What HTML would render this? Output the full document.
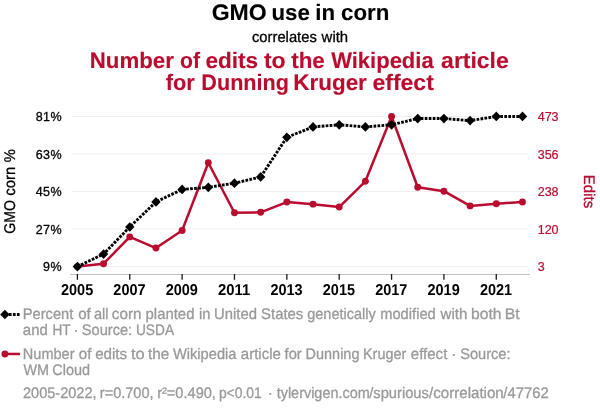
<!DOCTYPE html>
<html lang="en"><head><meta charset="utf-8"><title>GMO use in corn correlates with Number of edits to the Wikipedia article for Dunning Kruger effect</title>
<style>
html,body{margin:0;padding:0;background:#fff;}
body{width:600px;height:414px;overflow:hidden;}
svg{display:block;font-family:"Liberation Sans",Arial,Helvetica,sans-serif;}
text{stroke-linejoin:round;}
.b{font-weight:bold;}
</style></head><body>
<svg width="600" height="414" viewBox="0 0 600 414">
<rect width="600" height="414" fill="#fff"/>
<text class="b" text-rendering="geometricPrecision" y="19.80" font-size="22.4" fill="#000" stroke="#000" stroke-width="0.12"><tspan x="211.66" textLength="55.01" lengthAdjust="spacingAndGlyphs">GMO</tspan> <tspan x="271.52" textLength="38.34" lengthAdjust="spacingAndGlyphs">use</tspan> <tspan x="315.35" textLength="19.79" lengthAdjust="spacingAndGlyphs">in</tspan> <tspan x="341.03" textLength="48.36" lengthAdjust="spacingAndGlyphs">corn</tspan></text>
<text text-rendering="geometricPrecision" y="41.80" font-size="15.2" fill="#000" stroke="#000" stroke-width="0.30"><tspan x="251.97" textLength="64.86" lengthAdjust="spacingAndGlyphs">correlates</tspan> <tspan x="321.62" textLength="26.55" lengthAdjust="spacingAndGlyphs">with</tspan></text>
<text class="b" text-rendering="geometricPrecision" y="67.80" font-size="22.4" fill="#ba0c2f" stroke="#ba0c2f" stroke-width="0.12"><tspan x="89.71" textLength="84.13" lengthAdjust="spacingAndGlyphs">Number</tspan> <tspan x="179.97" textLength="19.99" lengthAdjust="spacingAndGlyphs">of</tspan> <tspan x="205.42" textLength="52.71" lengthAdjust="spacingAndGlyphs">edits</tspan> <tspan x="263.92" textLength="21.78" lengthAdjust="spacingAndGlyphs">to</tspan> <tspan x="291.23" textLength="33.54" lengthAdjust="spacingAndGlyphs">the</tspan> <tspan x="331.18" textLength="102.48" lengthAdjust="spacingAndGlyphs">Wikipedia</tspan> <tspan x="441.13" textLength="67.66" lengthAdjust="spacingAndGlyphs">article</tspan></text>
<text class="b" text-rendering="geometricPrecision" y="89.80" font-size="22.4" fill="#ba0c2f" stroke="#ba0c2f" stroke-width="0.12"><tspan x="165.83" textLength="29.00" lengthAdjust="spacingAndGlyphs">for</tspan> <tspan x="201.35" textLength="87.59" lengthAdjust="spacingAndGlyphs">Dunning</tspan> <tspan x="293.30" textLength="73.54" lengthAdjust="spacingAndGlyphs">Kruger</tspan> <tspan x="372.60" textLength="61.18" lengthAdjust="spacingAndGlyphs">effect</tspan></text>
<line x1="71" x2="528.5" y1="116.45" y2="116.45" stroke="#f0f0f0" stroke-width="1"/>
<line x1="71" x2="528.5" y1="153.99" y2="153.99" stroke="#f0f0f0" stroke-width="1"/>
<line x1="71" x2="528.5" y1="191.53" y2="191.53" stroke="#f0f0f0" stroke-width="1"/>
<line x1="71" x2="528.5" y1="229.06" y2="229.06" stroke="#f0f0f0" stroke-width="1"/>
<line x1="71" x2="528.5" y1="266.60" y2="266.60" stroke="#f0f0f0" stroke-width="1"/>
<line x1="70" x2="530" y1="274.5" y2="274.5" stroke="#c4c4c4" stroke-width="1"/>
<line x1="77.40" x2="77.40" y1="274" y2="279.8" stroke="#1a1a1a" stroke-width="1.3"/>
<text class="b" text-anchor="middle" textLength="32.20" lengthAdjust="spacingAndGlyphs" x="77.10" y="294.90" font-size="15.7" fill="#000" text-rendering="geometricPrecision">2005</text>
<line x1="129.76" x2="129.76" y1="274" y2="279.8" stroke="#1a1a1a" stroke-width="1.3"/>
<text class="b" text-anchor="middle" textLength="32.20" lengthAdjust="spacingAndGlyphs" x="129.46" y="294.90" font-size="15.7" fill="#000" text-rendering="geometricPrecision">2007</text>
<line x1="182.12" x2="182.12" y1="274" y2="279.8" stroke="#1a1a1a" stroke-width="1.3"/>
<text class="b" text-anchor="middle" textLength="32.20" lengthAdjust="spacingAndGlyphs" x="181.82" y="294.90" font-size="15.7" fill="#000" text-rendering="geometricPrecision">2009</text>
<line x1="234.48" x2="234.48" y1="274" y2="279.8" stroke="#1a1a1a" stroke-width="1.3"/>
<text class="b" text-anchor="middle" textLength="32.20" lengthAdjust="spacingAndGlyphs" x="234.18" y="294.90" font-size="15.7" fill="#000" text-rendering="geometricPrecision">2011</text>
<line x1="286.84" x2="286.84" y1="274" y2="279.8" stroke="#1a1a1a" stroke-width="1.3"/>
<text class="b" text-anchor="middle" textLength="32.20" lengthAdjust="spacingAndGlyphs" x="286.54" y="294.90" font-size="15.7" fill="#000" text-rendering="geometricPrecision">2013</text>
<line x1="339.20" x2="339.20" y1="274" y2="279.8" stroke="#1a1a1a" stroke-width="1.3"/>
<text class="b" text-anchor="middle" textLength="32.20" lengthAdjust="spacingAndGlyphs" x="338.90" y="294.90" font-size="15.7" fill="#000" text-rendering="geometricPrecision">2015</text>
<line x1="391.56" x2="391.56" y1="274" y2="279.8" stroke="#1a1a1a" stroke-width="1.3"/>
<text class="b" text-anchor="middle" textLength="32.20" lengthAdjust="spacingAndGlyphs" x="391.26" y="294.90" font-size="15.7" fill="#000" text-rendering="geometricPrecision">2017</text>
<line x1="443.92" x2="443.92" y1="274" y2="279.8" stroke="#1a1a1a" stroke-width="1.3"/>
<text class="b" text-anchor="middle" textLength="32.20" lengthAdjust="spacingAndGlyphs" x="443.62" y="294.90" font-size="15.7" fill="#000" text-rendering="geometricPrecision">2019</text>
<line x1="496.28" x2="496.28" y1="274" y2="279.8" stroke="#1a1a1a" stroke-width="1.3"/>
<text class="b" text-anchor="middle" textLength="32.20" lengthAdjust="spacingAndGlyphs" x="495.98" y="294.90" font-size="15.7" fill="#000" text-rendering="geometricPrecision">2021</text>
<text text-anchor="end" textLength="25.70" lengthAdjust="spacing" stroke="#000" stroke-width="0.30" x="61.50" y="120.70" font-size="12.5" fill="#000">81%</text>
<text stroke="#ba0c2f" stroke-width="0.20" x="537.70" y="120.70" font-size="12.5" fill="#ba0c2f">473</text>
<text text-anchor="end" textLength="25.70" lengthAdjust="spacing" stroke="#000" stroke-width="0.30" x="61.50" y="159.00" font-size="12.5" fill="#000">63%</text>
<text stroke="#ba0c2f" stroke-width="0.20" x="537.70" y="159.00" font-size="12.5" fill="#ba0c2f">356</text>
<text text-anchor="end" textLength="25.70" lengthAdjust="spacing" stroke="#000" stroke-width="0.30" x="61.50" y="195.70" font-size="12.5" fill="#000">45%</text>
<text stroke="#ba0c2f" stroke-width="0.20" x="537.70" y="195.70" font-size="12.5" fill="#ba0c2f">238</text>
<text text-anchor="end" textLength="25.70" lengthAdjust="spacing" stroke="#000" stroke-width="0.30" x="61.50" y="234.00" font-size="12.5" fill="#000">27%</text>
<text stroke="#ba0c2f" stroke-width="0.20" x="537.70" y="234.00" font-size="12.5" fill="#ba0c2f">120</text>
<text text-anchor="end" textLength="18.60" lengthAdjust="spacing" stroke="#000" stroke-width="0.30" x="61.50" y="271.00" font-size="12.5" fill="#000">9%</text>
<text stroke="#ba0c2f" stroke-width="0.20" x="537.70" y="271.00" font-size="12.5" fill="#ba0c2f">3</text>
<text transform="translate(15.1,233) rotate(-90)" font-size="15.5" text-rendering="geometricPrecision" fill="#000" stroke="#000" stroke-width="0.3"><tspan x="-0.71" textLength="33.58" lengthAdjust="spacingAndGlyphs">GMO</tspan> <tspan x="37.27" textLength="29.00" lengthAdjust="spacingAndGlyphs">corn</tspan> <tspan x="70.68" textLength="13.05" lengthAdjust="spacingAndGlyphs">%</tspan></text>
<text transform="translate(584.3,191.5) rotate(90)" font-size="15.4" text-rendering="geometricPrecision" textLength="33.4" lengthAdjust="spacingAndGlyphs" text-anchor="middle" fill="#ba0c2f" stroke="#ba0c2f" stroke-width="0.3">Edits</text>
<path d="M77.40 266.60 L103.58 263.72 L129.76 236.89 L155.94 248.07 L182.12 230.50 L208.30 162.77 L234.48 212.77 L260.66 212.29 L286.84 202.07 L313.02 204.14 L339.20 207.05 L365.38 181.30 L391.56 116.45 L417.74 187.21 L443.92 191.21 L470.10 205.90 L496.28 203.82 L522.46 201.94" fill="none" stroke="#ba0c2f" stroke-width="2.5" stroke-linejoin="round"/>
<circle cx="77.40" cy="266.60" r="3.45" fill="#ba0c2f"/>
<circle cx="103.58" cy="263.72" r="3.45" fill="#ba0c2f"/>
<circle cx="129.76" cy="236.89" r="3.45" fill="#ba0c2f"/>
<circle cx="155.94" cy="248.07" r="3.45" fill="#ba0c2f"/>
<circle cx="182.12" cy="230.50" r="3.45" fill="#ba0c2f"/>
<circle cx="208.30" cy="162.77" r="3.45" fill="#ba0c2f"/>
<circle cx="234.48" cy="212.77" r="3.45" fill="#ba0c2f"/>
<circle cx="260.66" cy="212.29" r="3.45" fill="#ba0c2f"/>
<circle cx="286.84" cy="202.07" r="3.45" fill="#ba0c2f"/>
<circle cx="313.02" cy="204.14" r="3.45" fill="#ba0c2f"/>
<circle cx="339.20" cy="207.05" r="3.45" fill="#ba0c2f"/>
<circle cx="365.38" cy="181.30" r="3.45" fill="#ba0c2f"/>
<circle cx="391.56" cy="116.45" r="3.45" fill="#ba0c2f"/>
<circle cx="417.74" cy="187.21" r="3.45" fill="#ba0c2f"/>
<circle cx="443.92" cy="191.21" r="3.45" fill="#ba0c2f"/>
<circle cx="470.10" cy="205.90" r="3.45" fill="#ba0c2f"/>
<circle cx="496.28" cy="203.82" r="3.45" fill="#ba0c2f"/>
<circle cx="522.46" cy="201.94" r="3.45" fill="#ba0c2f"/>
<path d="M77.40 266.60 L103.58 254.09 L129.76 226.98 L155.94 201.95 L182.12 189.44 L208.30 187.35 L234.48 183.18 L260.66 176.93 L286.84 137.30 L313.02 126.88 L339.20 124.79 L365.38 126.88 L391.56 124.79 L417.74 118.54 L443.92 118.54 L470.10 120.62 L496.28 116.45 L522.46 116.45" fill="none" stroke="#000" stroke-width="2.9" stroke-dasharray="2.7 1.3"/>
<path d="M77.40 261.75 l4.7 4.85 l-4.7 4.85 l-4.7 -4.85 z" fill="#000"/>
<path d="M103.58 249.24 l4.7 4.85 l-4.7 4.85 l-4.7 -4.85 z" fill="#000"/>
<path d="M129.76 222.13 l4.7 4.85 l-4.7 4.85 l-4.7 -4.85 z" fill="#000"/>
<path d="M155.94 197.10 l4.7 4.85 l-4.7 4.85 l-4.7 -4.85 z" fill="#000"/>
<path d="M182.12 184.59 l4.7 4.85 l-4.7 4.85 l-4.7 -4.85 z" fill="#000"/>
<path d="M208.30 182.50 l4.7 4.85 l-4.7 4.85 l-4.7 -4.85 z" fill="#000"/>
<path d="M234.48 178.33 l4.7 4.85 l-4.7 4.85 l-4.7 -4.85 z" fill="#000"/>
<path d="M260.66 172.08 l4.7 4.85 l-4.7 4.85 l-4.7 -4.85 z" fill="#000"/>
<path d="M286.84 132.45 l4.7 4.85 l-4.7 4.85 l-4.7 -4.85 z" fill="#000"/>
<path d="M313.02 122.03 l4.7 4.85 l-4.7 4.85 l-4.7 -4.85 z" fill="#000"/>
<path d="M339.20 119.94 l4.7 4.85 l-4.7 4.85 l-4.7 -4.85 z" fill="#000"/>
<path d="M365.38 122.03 l4.7 4.85 l-4.7 4.85 l-4.7 -4.85 z" fill="#000"/>
<path d="M391.56 119.94 l4.7 4.85 l-4.7 4.85 l-4.7 -4.85 z" fill="#000"/>
<path d="M417.74 113.69 l4.7 4.85 l-4.7 4.85 l-4.7 -4.85 z" fill="#000"/>
<path d="M443.92 113.69 l4.7 4.85 l-4.7 4.85 l-4.7 -4.85 z" fill="#000"/>
<path d="M470.10 115.77 l4.7 4.85 l-4.7 4.85 l-4.7 -4.85 z" fill="#000"/>
<path d="M496.28 111.60 l4.7 4.85 l-4.7 4.85 l-4.7 -4.85 z" fill="#000"/>
<path d="M522.46 111.60 l4.7 4.85 l-4.7 4.85 l-4.7 -4.85 z" fill="#000"/>
<path d="M4.9 314.5 H20.2" fill="none" stroke="#000" stroke-width="2.9" stroke-dasharray="2.7 1.3"/>
<path d="M4.9 309.65 l4.7 4.85 l-4.7 4.85 l-4.7 -4.85 z" fill="#000"/>
<path d="M4.9 353.95 H19.95" fill="none" stroke="#ba0c2f" stroke-width="2.5"/>
<circle cx="4.9" cy="353.95" r="3.45" fill="#ba0c2f"/>
<text text-rendering="geometricPrecision" y="318.70" font-size="15.3" fill="#999999" stroke="#999999" stroke-width="0.30"><tspan x="22.80" textLength="50.51" lengthAdjust="spacingAndGlyphs">Percent</tspan> <tspan x="78.16" textLength="12.61" lengthAdjust="spacingAndGlyphs">of</tspan> <tspan x="93.88" textLength="14.60" lengthAdjust="spacingAndGlyphs">all</tspan> <tspan x="111.85" textLength="29.64" lengthAdjust="spacingAndGlyphs">corn</tspan> <tspan x="145.54" textLength="48.92" lengthAdjust="spacingAndGlyphs">planted</tspan> <tspan x="199.02" textLength="11.44" lengthAdjust="spacingAndGlyphs">in</tspan> <tspan x="214.05" textLength="42.90" lengthAdjust="spacingAndGlyphs">United</tspan> <tspan x="261.12" textLength="42.21" lengthAdjust="spacingAndGlyphs">States</tspan> <tspan x="307.19" textLength="68.64" lengthAdjust="spacingAndGlyphs">genetically</tspan> <tspan x="380.22" textLength="55.52" lengthAdjust="spacingAndGlyphs">modified</tspan> <tspan x="440.52" textLength="26.76" lengthAdjust="spacingAndGlyphs">with</tspan> <tspan x="470.99" textLength="30.53" lengthAdjust="spacingAndGlyphs">both</tspan> <tspan x="504.71" textLength="14.91" lengthAdjust="spacingAndGlyphs">Bt</tspan></text>
<text text-rendering="geometricPrecision" y="334.60" font-size="15.3" fill="#999999" stroke="#999999" stroke-width="0.30"><tspan x="22.86" textLength="25.11" lengthAdjust="spacingAndGlyphs">and</tspan> <tspan x="52.40" textLength="17.91" lengthAdjust="spacingAndGlyphs">HT</tspan> <tspan x="73.45">·</tspan> <tspan x="81.84" textLength="50.30" lengthAdjust="spacingAndGlyphs">Source:</tspan> <tspan x="135.94" textLength="38.08" lengthAdjust="spacingAndGlyphs">USDA</tspan></text>
<text text-rendering="geometricPrecision" y="358.80" font-size="15.3" fill="#999999" stroke="#999999" stroke-width="0.30"><tspan x="22.81" textLength="51.73" lengthAdjust="spacingAndGlyphs">Number</tspan> <tspan x="78.86" textLength="12.61" lengthAdjust="spacingAndGlyphs">of</tspan> <tspan x="95.16" textLength="31.99" lengthAdjust="spacingAndGlyphs">edits</tspan> <tspan x="130.95" textLength="13.74" lengthAdjust="spacingAndGlyphs">to</tspan> <tspan x="147.97" textLength="21.21" lengthAdjust="spacingAndGlyphs">the</tspan> <tspan x="172.94" textLength="63.56" lengthAdjust="spacingAndGlyphs">Wikipedia</tspan> <tspan x="240.86" textLength="40.00" lengthAdjust="spacingAndGlyphs">article</tspan> <tspan x="284.59" textLength="17.15" lengthAdjust="spacingAndGlyphs">for</tspan> <tspan x="305.61" textLength="53.82" lengthAdjust="spacingAndGlyphs">Dunning</tspan> <tspan x="363.02" textLength="43.22" lengthAdjust="spacingAndGlyphs">Kruger</tspan> <tspan x="410.87" textLength="36.44" lengthAdjust="spacingAndGlyphs">effect</tspan> <tspan x="451.35">·</tspan> <tspan x="460.14" textLength="50.40" lengthAdjust="spacingAndGlyphs">Source:</tspan></text>
<text text-rendering="geometricPrecision" y="374.80" font-size="15.3" fill="#999999" stroke="#999999" stroke-width="0.30"><tspan x="23.44" textLength="25.54" lengthAdjust="spacingAndGlyphs">WM</tspan> <tspan x="52.27" textLength="37.66" lengthAdjust="spacingAndGlyphs">Cloud</tspan></text>
<text text-rendering="geometricPrecision" y="397.70" font-size="15.3" fill="#999999" stroke="#999999" stroke-width="0.30"><tspan x="22.97" textLength="73.54" lengthAdjust="spacingAndGlyphs">2005-2022,</tspan> <tspan x="99.84" textLength="53.67" lengthAdjust="spacingAndGlyphs">r=0.700,</tspan> <tspan x="157.13" textLength="58.78" lengthAdjust="spacingAndGlyphs">r²=0.490,</tspan> <tspan x="218.91" textLength="42.77" lengthAdjust="spacingAndGlyphs">p&lt;0.01</tspan> <tspan x="267.65">·</tspan> <tspan x="276.68" textLength="93.07" lengthAdjust="spacingAndGlyphs">tylervigen.com</tspan><tspan x="369.20" textLength="59.73" lengthAdjust="spacingAndGlyphs">/spurious</tspan><tspan x="429.10" textLength="74.63" lengthAdjust="spacingAndGlyphs">/correlation</tspan><tspan x="503.30" textLength="45.35" lengthAdjust="spacingAndGlyphs">/47762</tspan></text>
</svg>
</body></html>
